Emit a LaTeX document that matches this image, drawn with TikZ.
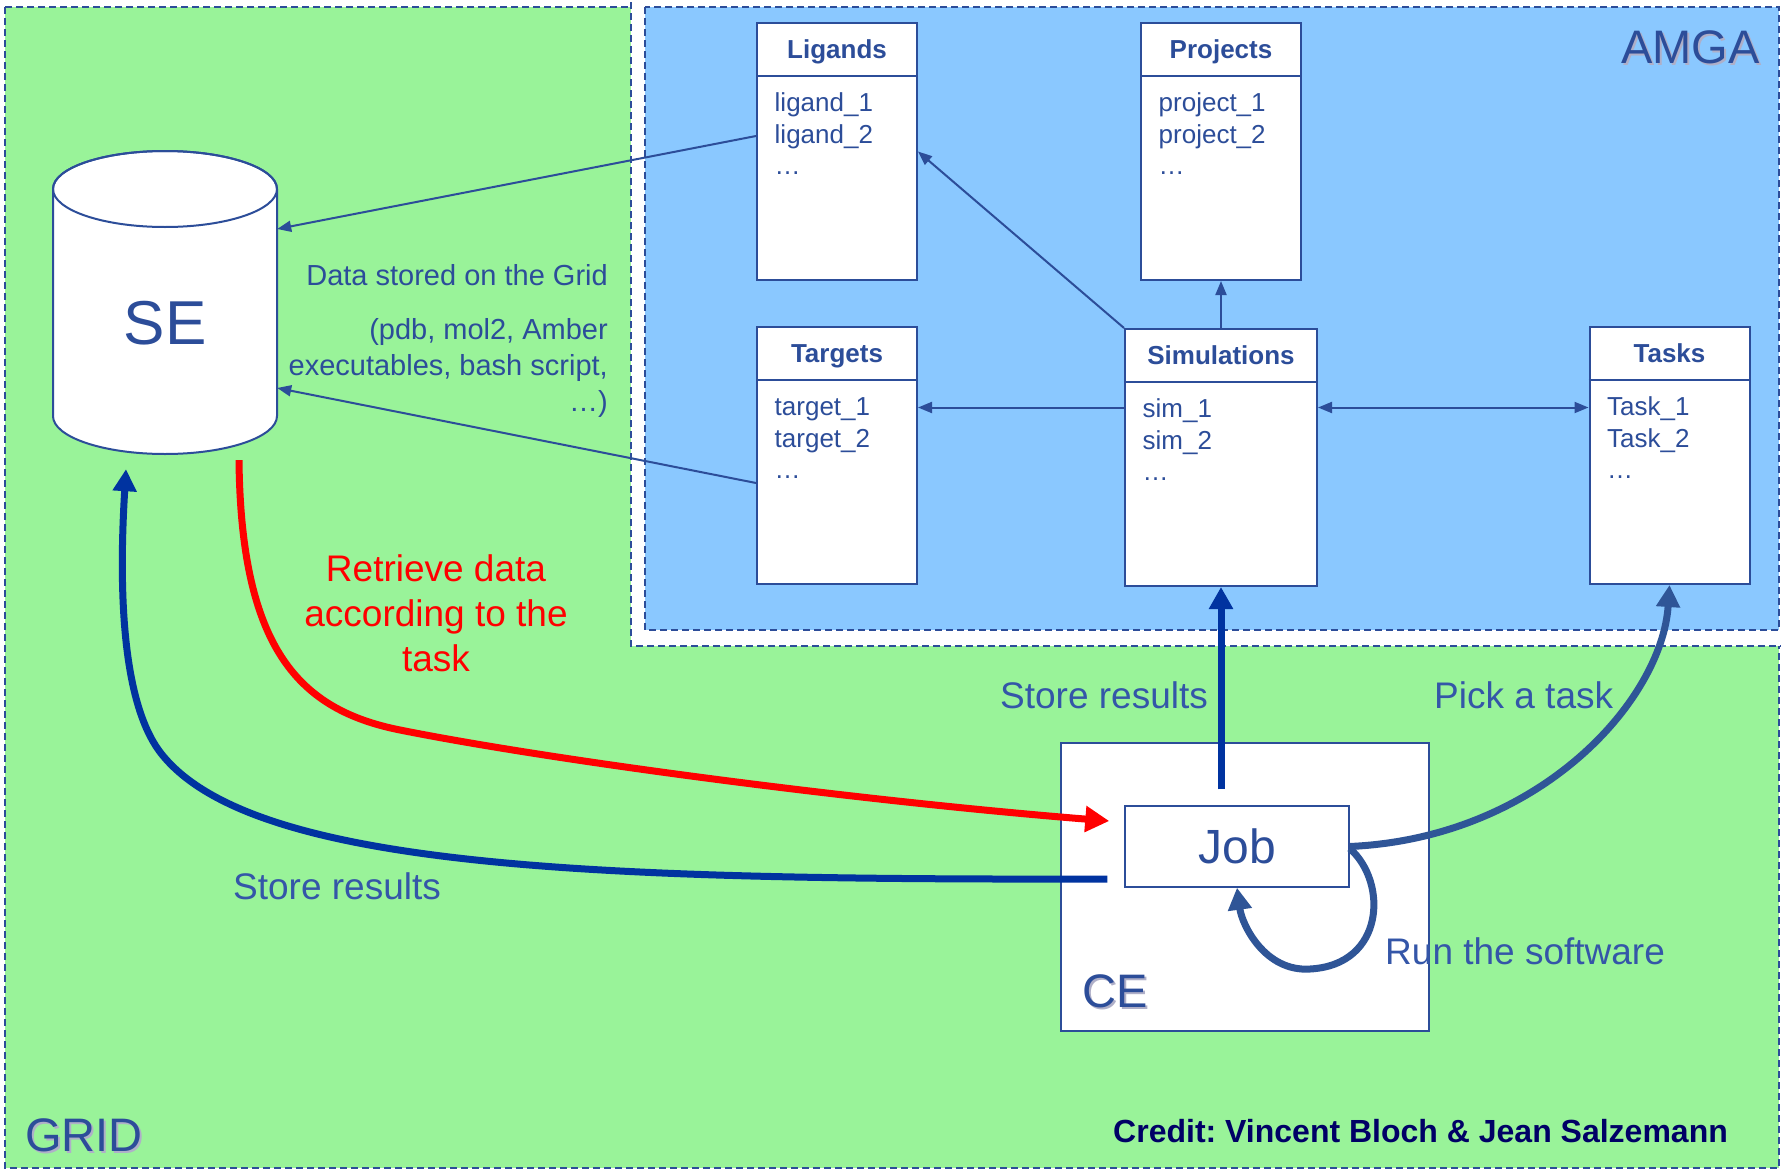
\documentclass[tikz,border=0pt]{standalone}
\usepackage{fontspec}
\setmainfont{Liberation Sans}
\usetikzlibrary{arrows.meta}
\frenchspacing
\definecolor{gridgreen}{RGB}{153,243,153}
\definecolor{amgablue}{RGB}{138,200,255}
\definecolor{ink}{RGB}{44,77,153}
\definecolor{deepblue}{RGB}{0,51,160}
\definecolor{midblue}{RGB}{47,85,151}
\definecolor{labelblue}{RGB}{52,86,168}
\definecolor{navy}{RGB}{0,0,102}
\definecolor{shadowgray}{RGB}{175,175,200}
\newcommand{\myfs}[1]{\fontsize{#1pt}{#1pt}\selectfont}
\newcommand{\dbtable}[7]{%
  \node[tabbox, minimum width=#4pt, anchor=north] (#1) at (#2,#3) {};
  \draw[tabline] ([yshift=-54pt]#1.north west) -- ([yshift=-54pt]#1.north east);
  \node[headtext, anchor=base] (#1H) at ([yshift=-36.5pt]#1.north) {#5};
  \node[entrytext, anchor=base west] (#1A) at ([xshift=18.5pt,yshift=-89pt]#1.north west) {#6};
  \node[entrytext, anchor=base west] (#1B) at ([xshift=18.5pt,yshift=-121pt]#1.north west) {#7};
  \node[entrytext, anchor=base west] (#1C) at ([xshift=18.5pt,yshift=-152pt]#1.north west) {…};
}
\begin{document}
\begin{tikzpicture}[x=1pt,y=-1pt,
  tabbox/.style={draw=ink, line width=2pt, fill=white, minimum height=257pt, inner sep=0pt},
  tabline/.style={draw=ink, line width=2.5pt},
  headtext/.style={font=\myfs{26}\bfseries, text=ink, inner sep=0pt},
  entrytext/.style={font=\myfs{26}, text=ink, inner sep=0pt},
  datatext/.style={font=\myfs{29}, text=ink, inner sep=0pt},
  dashborder/.style={draw=ink, line width=1.3pt, dash pattern=on 7pt off 4pt},
  thinarrow/.style={draw=ink, line width=2pt, -{Triangle[length=14pt,width=11pt]}},
  thinboth/.style={draw=ink, line width=2pt, {Triangle[length=14pt,width=11pt]}-{Triangle[length=14pt,width=11pt]}},
  deeparrow/.style={draw=deepblue, line width=7pt, -{Triangle[length=22pt,width=23pt]}},
  midarrow/.style={draw=midblue, line width=7pt, -{Triangle[length=22pt,width=23pt]}},
  redarrow/.style={draw=red, line width=7pt, -{Triangle[length=24pt,width=25pt]}},
  labeltext/.style={font=\myfs{37}, text=labelblue, inner sep=0pt},
  redtext/.style={font=\myfs{37}, text=red, inner sep=0pt},
  bigtext/.style={font=\myfs{47}, inner sep=0pt},
  plainbox/.style={draw=ink, line width=1.5pt, fill=white, inner sep=0pt}
]
\clip (0,0) rectangle (1781,1170);
% backgrounds
\draw[dashborder, fill=gridgreen] (5,7) rectangle (1779,1168);
\draw[dashborder, fill=white] (631,-20) rectangle (1800,646);
\draw[dashborder, fill=amgablue] (645,7) rectangle (1779,630);

% SE cylinder
\path[fill=white, draw=ink, line width=2pt] (53,189) -- (53,416)
  arc[start angle=180, end angle=360, x radius=112pt, y radius=38pt]
  -- (277,189) arc[start angle=0, end angle=180, x radius=112pt, y radius=38pt] -- cycle;
\draw[ink, line width=2pt] (165,189) ellipse [x radius=112pt, y radius=38pt];
\node[minimum width=224pt, minimum height=303pt, inner sep=0pt] (se) at (165,302.5) {};
\node[font=\myfs{62}, text=ink, anchor=base, inner sep=0pt] (seT) at (165,344) {SE};

% tables
\dbtable{lig}{837}{22}{160}{Ligands}{ligand\_1}{ligand\_2}
\dbtable{proj}{1221}{22}{160}{Projects}{project\_1}{project\_2}
\dbtable{targ}{837}{326}{160}{Targets}{target\_1}{target\_2}
\dbtable{sim}{1221}{328}{192}{Simulations}{sim\_1}{sim\_2}
\dbtable{tasks}{1669.5}{326}{160}{Tasks}{Task\_1}{Task\_2}

% thin connectors
\coordinate (seLig) at ([yshift=73.5pt]se.east);
\coordinate (seTar) at ([yshift=-85.5pt]se.east);
\draw[thinarrow] ([yshift=15.5pt]lig.west) -- (seLig);
\draw[thinarrow] ([yshift=-27.5pt]targ.west) -- (seTar);
\draw[thinarrow] (sim.north west) -- (lig.east);
\draw[thinarrow] (sim.north) -- (proj.south);
\coordinate (simL) at ([yshift=50pt]sim.west);
\coordinate (simR) at ([yshift=50pt]sim.east);
\draw[thinarrow] (simL) -- (simL -| targ.east);
\draw[thinboth] (simR) -- (simR -| tasks.west);

% data text
\node[datatext, anchor=base east] (data1) at (608,285) {Data stored on the Grid};
\node[datatext, anchor=base east] (data2) at (608,339) {(pdb, mol2, Amber};
\node[datatext, anchor=base east] (data3) at (608,375) {executables, bash script,};
\node[datatext, anchor=base east] (data4) at (608,411) {…)};

% CE and Job
\node[plainbox, minimum width=368pt, minimum height=288pt] (ce) at (1245,887) {};
\node[plainbox, minimum width=224pt, minimum height=81pt, font=\myfs{48}, text=ink] (job) at (1237,846.5) {Job};

% thick connectors
\coordinate (jobAbove) at ([yshift=16pt]job.north);
\draw[deeparrow] (jobAbove -| sim.south) -- (sim.south);
\coordinate (seRed) at ([xshift=74pt,yshift=-6pt]se.south);
\coordinate (jobRed) at ([xshift=-15pt,yshift=25.5pt]job.west);
\draw[redarrow] (seRed) .. controls (241,650) and (300,710) .. (400,730)
  .. controls (550,760) and (850,800) .. (jobRed);
\coordinate (jobBlue) at ([xshift=-17pt,yshift=-32.5pt]job.west);
\coordinate (seBlue) at ([xshift=-39pt,yshift=-15pt]se.south);
\draw[deeparrow] (jobBlue) .. controls (600,880) and (250,870) .. (160,752)
  .. controls (124,704) and (118,600) .. (seBlue);
\draw[midarrow] (job.east) .. controls (1540,838) and (1662,700) .. (tasks.south);
\draw[midarrow] ([yshift=-2pt]job.east) .. controls (1388,882) and (1385,965) .. (1310,969)
  .. controls (1265,972) and (1242,925) .. (job.south);

% labels
\node[labeltext, anchor=base west] (storeUp) at (1000,708) {Store results};
\node[labeltext, anchor=base west] (pick) at (1434,708) {Pick a task};
\node[labeltext, anchor=base west] (run) at (1385,964) {Run the software};
\node[labeltext, anchor=base west] (storeLow) at (233,899) {Store results};
\node[redtext, anchor=base] (retr1) at (436,581) {Retrieve data};
\node[redtext, anchor=base] (retr2) at (436,626) {according to the};
\node[redtext, anchor=base] (retr3) at (436,671) {task};

% big labels with shadow
\node[bigtext, text=shadowgray, anchor=base west] (amgaS) at (1623,65) {AMGA};
\node[bigtext, text=ink, anchor=base west] (amga) at (1621,63) {AMGA};
\node[bigtext, text=shadowgray, anchor=base west] (gridS) at (27,1153) {GRID};
\node[bigtext, text=ink, anchor=base west] (gridT) at (25,1151) {GRID};
\node[bigtext, text=shadowgray, anchor=base west] (ceS) at (1084,1009) {CE};
\node[bigtext, text=ink, anchor=base west] (ceT) at (1082,1007) {CE};

% credit
\node[font=\myfs{32}\bfseries, text=navy, anchor=base west, inner sep=0pt] (credit) at (1113,1142) {Credit: Vincent Bloch \& Jean Salzemann};
\end{tikzpicture}
\end{document}
